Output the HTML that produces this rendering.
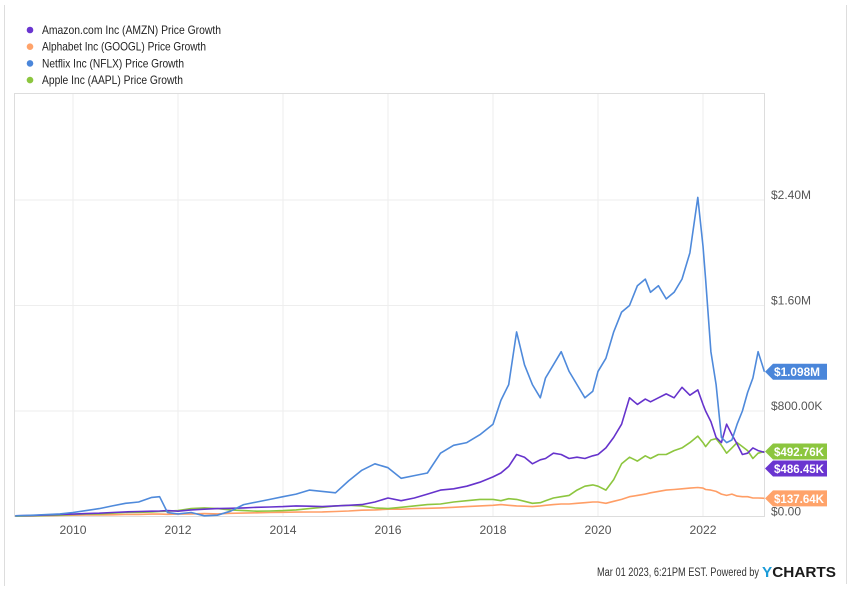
<!DOCTYPE html>
<html><head><meta charset="utf-8"><style>
body{margin:0;background:#fff;font-family:"Liberation Sans",sans-serif;}
svg text{font-family:"Liberation Sans",sans-serif;}
</style></head><body>
<svg id="chart" width="850" height="586" viewBox="0 0 850 586" xmlns="http://www.w3.org/2000/svg">
<line x1="4.5" y1="5" x2="4.5" y2="586" stroke="#ddd"/>
<line x1="846.5" y1="5" x2="846.5" y2="584" stroke="#ddd"/>
<g id="legend"></g>
<rect x="14.5" y="93.5" width="750" height="423" fill="none" stroke="#ddd"/>
<g id="grid"></g>
<g id="series"></g>
<g id="axes"></g>
<g id="tags"></g>
<text x="597" y="576" font-size="11.5" fill="#333" textLength="162" lengthAdjust="spacingAndGlyphs">Mar 01 2023, 6:21PM EST. Powered by</text>
<text x="762" y="577" font-size="15" font-weight="bold" fill="#1a1a1a" textLength="74" lengthAdjust="spacingAndGlyphs"><tspan fill="#1a9bd8">Y</tspan>CHARTS</text>
</svg>
<script>
const dates=[2008.9,2009.25,2009.5,2009.75,2010,2010.25,2010.5,2010.75,2011,2011.25,2011.5,2011.65,2011.8,2012,2012.25,2012.5,2012.75,2013,2013.25,2013.5,2013.75,2014,2014.25,2014.5,2014.75,2015,2015.25,2015.5,2015.75,2016,2016.25,2016.5,2016.75,2017,2017.25,2017.5,2017.75,2018,2018.15,2018.3,2018.45,2018.6,2018.75,2018.9,2019,2019.15,2019.3,2019.45,2019.6,2019.75,2019.9,2020,2020.15,2020.3,2020.45,2020.6,2020.75,2020.9,2021,2021.15,2021.3,2021.45,2021.6,2021.75,2021.9,2022,2022.05,2022.15,2022.25,2022.35,2022.45,2022.55,2022.65,2022.75,2022.85,2022.95,2023.05,2023.17];
const nflx=[5,10,15,20,30,45,60,80,100,110,145,150,30,20,30,5,10,40,90,110,130,150,170,200,190,180,270,350,400,370,290,310,330,480,540,560,620,700,880,1000,1400,1150,1000,900,1050,1150,1250,1100,1000,900,950,1100,1200,1400,1550,1600,1750,1800,1700,1750,1650,1700,1800,2000,2420,2050,1800,1250,1000,600,560,580,700,800,940,1050,1250,1098];
const amzn=[5,8,12,15,18,22,25,30,35,38,40,42,45,40,50,55,60,62,65,70,72,75,80,78,75,80,85,90,110,140,120,140,170,200,210,230,260,300,330,380,470,450,400,430,440,480,470,440,450,440,460,470,520,600,700,900,850,890,870,900,930,900,980,920,960,850,800,720,600,560,700,620,550,470,480,520,500,486.45];
const aapl=[2,5,8,10,15,18,20,25,30,32,35,38,40,45,60,65,60,50,45,40,42,45,50,60,70,80,85,80,65,60,70,80,90,95,110,120,130,130,120,135,130,115,100,105,120,140,150,160,200,230,240,230,200,280,400,450,420,460,440,470,470,500,520,560,610,560,530,580,590,540,480,520,560,530,500,440,480,492.76];
const googl=[2,4,6,8,10,11,12,13,15,16,18,18,17,18,20,22,20,24,26,28,30,32,33,34,35,38,42,48,50,55,55,60,62,65,70,75,80,85,90,85,80,78,75,80,85,90,95,95,100,105,110,110,100,115,130,150,160,170,180,190,200,205,210,215,220,215,205,200,190,170,160,170,155,150,150,140,140,137.64];
const xYears=[2010,2012,2014,2016,2018,2020,2022];
const yTicks=[0,800,1600,2400];
const yLabels=["$0.00","$800.00K","$1.60M","$2.40M"];
const names=["Amazon.com Inc (AMZN) Price Growth","Alphabet Inc (GOOGL) Price Growth","Netflix Inc (NFLX) Price Growth","Apple Inc (AAPL) Price Growth"];
const tagLabels=["$486.45K","$137.64K","$1.098M","$492.76K"];

const NS="http://www.w3.org/2000/svg";
function X(t){return 73+(t-2010)*52.5;}
function Y(v){return 516.5-v*105.5/800;}
function mk(tag,attrs,parent){const e=document.createElementNS(NS,tag);for(const k in attrs)e.setAttribute(k,attrs[k]);parent.appendChild(e);return e;}
const grid=document.getElementById('grid'),axes=document.getElementById('axes'),ser=document.getElementById('series'),tags=document.getElementById('tags'),leg=document.getElementById('legend');
xYears.forEach(yr=>{
 const l=mk('line',{x1:X(yr),x2:X(yr),y1:94,y2:516,stroke:'#eee'},grid);
 
 
 const t=mk('text',{x:X(yr),y:534,'font-size':12,fill:'#555','text-anchor':'middle',textLength:27,lengthAdjust:'spacingAndGlyphs'},axes);
 t.textContent=yr;
 
 
});
yTicks.forEach((v,i)=>{
 if(v>0){const l=mk('line',{x1:15,x2:764,y1:Y(v),y2:Y(v),stroke:'#eee'},grid);
 
 }
 const t=mk('text',{x:771,y:Y(v)-1,'font-size':12,fill:'#555'},axes);
 t.textContent=yLabels[i];
 
 
});
const allSeries=[amzn,googl,nflx,aapl];
const lineColors=["#6633cc","#ff9e66","#4f8adb","#8dc63f"];
const tagColors=["#6a35d0","#ffa36a","#4a86da","#8cc63f"];
const legendWidths=[179,164,142,141];
const order=[1,3,0,2];
order.forEach(i=>{
 const d=allSeries[i].map((v,j)=>(j?'L':'M')+X(dates[j]).toFixed(1)+' '+Y(v).toFixed(1)).join(' ');
 const p=mk('path',{d:d,fill:'none',stroke:lineColors[i],'stroke-width':1.6,'stroke-linejoin':'round'},ser);
 
 
});
names.forEach((n,i)=>{
 const c=mk('circle',{cx:30,cy:30+i*16.7,r:3.3,fill:tagColors[i]},leg);
 
 
 const t=mk('text',{x:42,y:34+i*16.7,'font-size':12,fill:'#222',textLength:legendWidths[i],lengthAdjust:'spacingAndGlyphs'},leg);
 t.textContent=n;
 
 
});
const tagY=allSeries.map(s=>Y(s[s.length-1]));
const idx=[0,1,2,3].sort((a,b)=>tagY[a]-tagY[b]);
for(let k=1;k<idx.length;k++){if(tagY[idx[k]]-tagY[idx[k-1]]<17)tagY[idx[k]]=tagY[idx[k-1]]+17;}
allSeries.forEach((s,i)=>{
 const cy=tagY[i];
 const p=mk('path',{d:`M765 ${cy} L773 ${cy-8} L827 ${cy-8} L827 ${cy+8} L773 ${cy+8} Z`,fill:tagColors[i]},tags);
 
 
 const t=mk('text',{x:774,y:cy+4.5,'font-size':12,'font-weight':'bold',fill:'#fff',textLength:tagLabels[i].length>7?50:46,lengthAdjust:'spacingAndGlyphs'},tags);
 t.textContent=tagLabels[i];
 
 
});
</script>
</body></html>
